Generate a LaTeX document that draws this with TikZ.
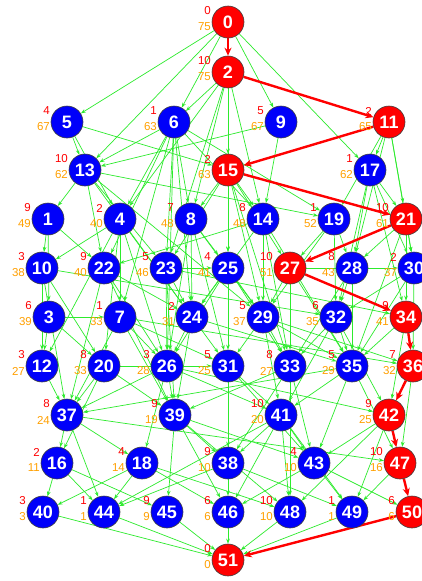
\documentclass[tikz,border=0pt]{standalone}
\usepackage{fontspec}
\setmainfont{Liberation Sans}
\usetikzlibrary{arrows.meta,backgrounds}
\definecolor{gcol}{RGB}{45,235,45}
\definecolor{ocol}{RGB}{255,160,0}
\definecolor{bcol}{RGB}{0,0,250}
\definecolor{rcol}{RGB}{255,0,0}
\tikzset{
  bn/.style={circle, fill=bcol, draw=black!75, line width=0.6pt, minimum size=32pt, inner sep=0pt, text=white, font=\fontsize{18}{18}\selectfont\bfseries},
  rn/.style={bn, fill=rcol},
  rl/.style={anchor=east, inner sep=0pt, text=rcol, font=\fontsize{11.5}{12}\selectfont},
  ol/.style={anchor=east, inner sep=0pt, text=ocol, font=\fontsize{11.5}{12}\selectfont},
  ge/.style={draw=gcol, line width=0.7pt, -{Stealth[length=5pt,width=3.6pt]}},
  re/.style={draw=rcol, line width=2.4pt, -{Stealth[length=8pt,width=7pt]}}
}
\newcommand\gnode[6]{%
  \node[#4] (n#1) at (#2,#3) {#1};
  \node[rl, xshift=-17pt, yshift=11pt] (r#1) at (#2,#3) {#5};
  \node[ol, xshift=-17pt, yshift=-5pt] (o#1) at (#2,#3) {#6};
}
\begin{document}
\begin{tikzpicture}[x=1pt,y=-1pt]
\useasboundingbox (0,0) rectangle (422,581);
\gnode{0}{228}{22}{rn}{0}{75}
\gnode{2}{228}{72}{rn}{10}{75}
\gnode{5}{67}{122}{bn}{4}{67}
\gnode{6}{174}{122}{bn}{1}{63}
\gnode{9}{281}{122}{bn}{5}{67}
\gnode{11}{389}{122}{rn}{2}{65}
\gnode{13}{85}{170}{bn}{10}{62}
\gnode{15}{228}{170}{rn}{2}{63}
\gnode{17}{370}{170}{bn}{1}{62}
\gnode{1}{48}{219}{bn}{9}{49}
\gnode{4}{120}{219}{bn}{2}{40}
\gnode{8}{191}{219}{bn}{7}{48}
\gnode{14}{263}{219}{bn}{8}{48}
\gnode{19}{334}{219}{bn}{1}{52}
\gnode{21}{406}{219}{rn}{10}{61}
\gnode{10}{42}{268}{bn}{3}{38}
\gnode{22}{104}{268}{bn}{9}{40}
\gnode{23}{166}{268}{bn}{5}{46}
\gnode{25}{228}{268}{bn}{4}{41}
\gnode{27}{290}{268}{rn}{10}{51}
\gnode{28}{352}{268}{bn}{8}{43}
\gnode{30}{414}{268}{bn}{2}{37}
\gnode{3}{49}{317}{bn}{6}{39}
\gnode{7}{120}{317}{bn}{1}{33}
\gnode{24}{192}{317}{bn}{2}{31}
\gnode{29}{263}{317}{bn}{5}{37}
\gnode{32}{336}{317}{bn}{6}{35}
\gnode{34}{406}{317}{rn}{9}{41}
\gnode{12}{42}{366}{bn}{3}{27}
\gnode{20}{104}{366}{bn}{8}{33}
\gnode{26}{167}{366}{bn}{3}{28}
\gnode{31}{228}{366}{bn}{5}{25}
\gnode{33}{290}{366}{bn}{8}{27}
\gnode{35}{352}{366}{bn}{5}{29}
\gnode{36}{413}{366}{rn}{7}{32}
\gnode{37}{67}{415}{bn}{8}{24}
\gnode{39}{175}{415}{bn}{9}{19}
\gnode{41}{281}{415}{bn}{10}{20}
\gnode{42}{389}{415}{rn}{9}{25}
\gnode{16}{57}{463}{bn}{2}{11}
\gnode{18}{142}{463}{bn}{4}{14}
\gnode{38}{228}{463}{bn}{9}{10}
\gnode{43}{314}{463}{bn}{4}{10}
\gnode{47}{400}{463}{rn}{10}{16}
\gnode{40}{43}{512}{bn}{3}{3}
\gnode{44}{104}{512}{bn}{1}{1}
\gnode{45}{167}{512}{bn}{9}{9}
\gnode{46}{228}{512}{bn}{6}{6}
\gnode{48}{290}{512}{bn}{10}{10}
\gnode{49}{352}{512}{bn}{1}{1}
\gnode{50}{412}{512}{rn}{6}{6}
\gnode{51}{228}{560}{rn}{0}{0}
\begin{pgfonlayer}{background}
\fill[white] (0,0) rectangle (422,581);
\foreach \a/\b in {0/5,0/6,0/9,0/13,0/17,
  2/6,2/15,2/8,2/14,2/23,2/25,2/4,
  5/13,5/15,5/4,
  6/13,6/4,6/8,6/22,6/23,6/24,6/14,6/26,6/7,6/19,
  9/13,9/14,
  11/17,11/21,11/19,11/30,11/28,
  13/1,13/22,13/19,13/24,13/23,13/29,
  15/8,15/25,15/14,15/27,15/29,15/23,15/33,
  17/21,17/30,17/28,17/34,17/32,
  1/10,1/22,1/3,
  4/10,4/7,4/20,4/26,4/24,4/12,
  8/25,8/24,8/31,8/26,8/29,
  14/22,14/29,14/33,14/24,14/35,
  19/27,19/28,19/29,19/32,
  21/30,21/34,21/28,21/35,
  10/32,10/20,10/37,10/12,
  22/24,22/26,22/37,22/39,
  23/25,23/26,23/24,23/39,23/34,
  25/29,25/24,25/31,25/33,25/26,
  27/33,27/35,27/29,27/30,
  28/32,28/35,28/33,
  30/32,30/36,30/35,
  3/20,3/12,3/7,
  7/36,7/26,7/37,7/39,7/31,
  24/35,24/26,24/31,24/39,
  29/36,29/33,29/31,29/35,29/41,
  32/35,32/33,32/42,32/41,
  34/35,34/42,
  12/37,
  20/31,20/37,20/39,20/16,
  26/42,26/37,26/39,26/41,26/18,
  31/41,31/38,31/43,31/46,
  33/39,33/43,33/48,33/38,
  35/37,35/41,35/43,35/47,
  36/47,
  37/47,37/16,37/18,37/44,
  39/48,39/38,39/45,39/43,39/46,
  41/43,41/48,41/38,41/46,41/44,41/49,
  42/43,42/49,42/48,
  16/45,16/40,16/44,
  18/48,18/44,18/40,18/46,
  38/44,38/49,
  43/46,43/50,43/49,
  47/49,
  40/51,44/51,45/51,46/51,48/51,49/51}
  \draw[ge] (n\a) -- (n\b);
\foreach \a/\b in {0/2,2/11,11/15,15/21,21/27,27/34,34/36,36/42,42/47,47/50,50/51}
  \draw[re] (n\a) -- (n\b);
\end{pgfonlayer}
\end{tikzpicture}
\end{document}
